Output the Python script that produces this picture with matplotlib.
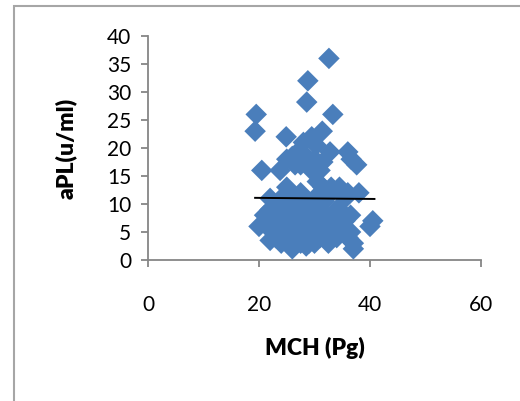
import matplotlib
matplotlib.use("Agg")
import matplotlib.pyplot as plt
from matplotlib.patches import Rectangle

plt.rcParams['font.family'] = ['Lato', 'DejaVu Sans']

mch = [32.6, 28.8, 28.6, 33.3, 19.5, 19.3, 31.4, 24.9, 28.0, 29.5, 30.3, 27.2, 26.0, 25.0,
       28.5, 30.0, 31.5, 32.8, 36.0, 36.6, 37.6, 20.5, 23.8, 29.5, 31.0, 27.5, 26.5,
       25.0, 30.5, 31.5, 33.0, 34.5, 36.0, 38.0, 35.5, 32.5, 30.0, 22.0, 25.5, 28.0, 27.5, 29.0,
       21.0, 22.0, 23.0, 24.0, 20.0, 21.5, 22.5, 23.0, 24.0, 25.0, 26.0, 26.5, 27.0, 28.0,
       28.0, 29.0, 29.5, 30.0, 30.5, 31.0, 31.0, 32.0, 32.0, 33.0, 34.0, 34.0, 35.0, 35.5,
       36.0, 36.5, 37.0, 37.0, 36.5, 40.5, 40.0, 27.0, 26.0, 25.0, 24.0, 22.0, 25.5, 27.5,
       28.5, 30.0, 32.5, 33.5, 29.0, 31.5, 23.5, 26.0, 28.5, 30.0, 34.0, 35.0, 22.0, 33.0,
       27.0, 25.0, 24.0, 31.8]
apl = [36.0, 32.0, 28.2, 26.0, 26.0, 23.0, 23.0, 22.0, 21.0, 22.0, 20.5, 19.5, 18.5, 18.0,
       18.5, 18.0, 17.5, 19.3, 19.3, 18.0, 17.0, 16.0, 16.0, 16.0, 16.0, 17.0, 17.0,
       13.0, 14.0, 13.0, 13.0, 13.0, 12.0, 12.0, 11.0, 11.5, 11.0, 11.0, 11.0, 10.0, 12.0, 9.0,
       8.0, 9.0, 8.0, 7.0, 6.0, 6.0, 5.0, 4.0, 3.0, 4.0, 2.0, 5.0, 6.0, 7.0,
       4.0, 3.0, 5.0, 8.0, 6.0, 4.0, 9.0, 7.0, 5.0, 4.0, 4.0, 6.0, 5.0, 7.0,
       4.0, 8.0, 2.0, 3.0, 5.0, 7.0, 6.0, 9.0, 8.0, 6.0, 5.0, 3.5, 3.0, 3.0,
       2.5, 3.0, 3.0, 5.0, 6.5, 6.5, 9.5, 10.0, 9.0, 10.0, 9.0, 8.5, 7.0, 7.5,
       4.5, 8.0, 11.0, 10.5]

trend_x = [19.3, 40.8]
trend_y = [11.1, 10.9]

xticks = [0, 20, 40, 60]
yticks = [0, 5, 10, 15, 20, 25, 30, 35, 40]

fig = plt.figure(figsize=(5.2, 4.01), dpi=100)
ax = fig.add_axes([148/520, 1-260/401, (481-148)/520, (260-36)/401])

ax.scatter(mch, apl, marker='D', s=120, color='#4a7ebb', edgecolors='none', zorder=2)
ax.plot(trend_x, trend_y, color='black', lw=1.4, zorder=3)

ax.set_xlim(0, 60)
ax.set_ylim(0, 40)
ax.set_xticks(xticks)
ax.set_yticks(yticks)
for s in ['top', 'right']:
    ax.spines[s].set_visible(False)
for s in ['left', 'bottom']:
    ax.spines[s].set_color('#868686')
    ax.spines[s].set_linewidth(1.3)
    ax.spines[s].set_zorder(1)
ax.tick_params(axis='x', length=5, width=1.3, color='#868686', pad=20, labelsize=15)
ax.tick_params(axis='y', length=5, width=1.3, color='#868686', pad=7, labelsize=15)

ax.set_xlabel('MCH (Pg)', fontsize=16.5, fontweight='heavy', labelpad=16)
ax.set_ylabel('aPL(u/ml)', fontsize=16.5, fontweight='heavy', labelpad=22)

fig.patches.append(Rectangle((14/520, -0.1), 1.2, (401-6)/401 + 0.1, transform=fig.transFigure,
                             fill=False, edgecolor='#a6a6a6', lw=1.5))

fig.savefig('out.png', dpi=100)
